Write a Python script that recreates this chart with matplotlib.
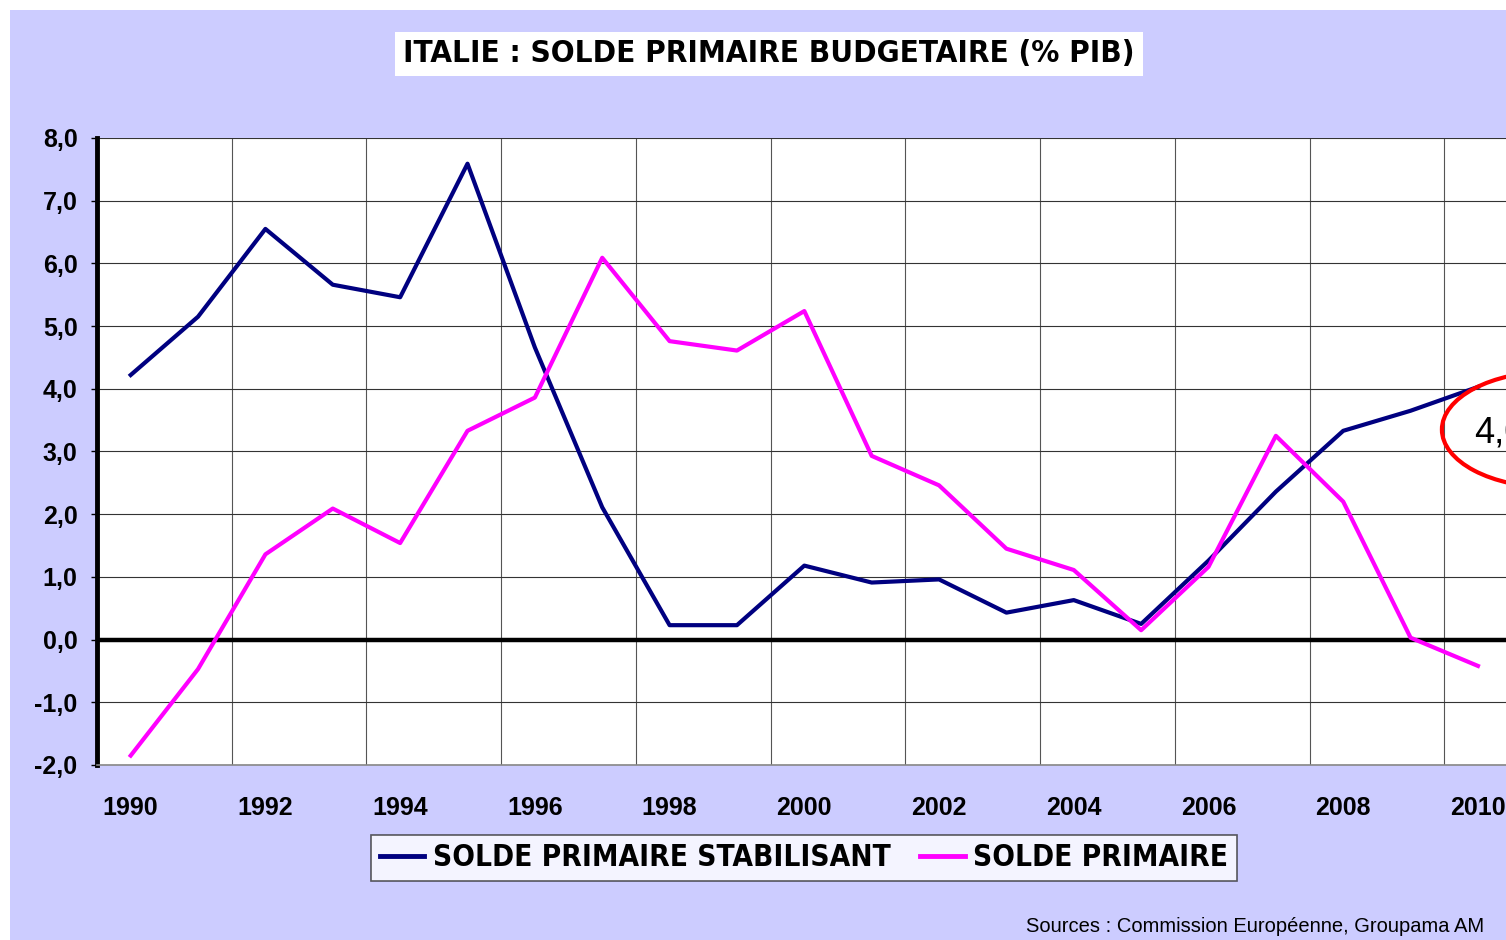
import numpy as np
import matplotlib.pyplot as plt
from matplotlib.patches import Rectangle, Ellipse
from matplotlib.lines import Line2D

years = list(range(1990, 2011))
stabilisant = [4.22, 5.15, 6.55, 5.66, 5.46, 7.59, 4.66, 2.11, 0.23, 0.23, 1.18,
               0.91, 0.96, 0.43, 0.63, 0.25, 1.26, 2.36, 3.33, 3.65, 4.03]
primaire = [-1.85, -0.47, 1.36, 2.09, 1.54, 3.33, 3.86, 6.09, 4.76, 4.61, 5.24,
            2.93, 2.46, 1.45, 1.11, 0.15, 1.16, 3.25, 2.20, 0.03, -0.42]
year_ticks = list(range(1990, 2011, 2))
y_ticks = np.arange(-2, 9, 1)

NAVY = '#000080'
MAGENTA = '#FF00FF'
LAV = '#CCCCFF'

fig = plt.figure(figsize=(15.06, 9.40), dpi=100)
fig.patch.set_facecolor('white')
# fond lavande, petite marge blanche en haut et a gauche
fig.patches.append(Rectangle((10/1506, 0), 1, 1 - 10/940, transform=fig.transFigure,
                             facecolor=LAV, edgecolor='none', zorder=-10))

ax = fig.add_axes([97/1506, 1 - 765/940, 1482/1506, (765 - 138)/940])
ax.set_facecolor('white')
ax.set_xlim(1989.5, 2011.5)
ax.set_ylim(-2, 8)

for v in np.arange(1991.5, 2011.5, 2):
    ax.axvline(v, color='#555555', lw=0.8, zorder=1)
for v in y_ticks:
    ax.axhline(v, color='#333333', lw=0.8, zorder=1)
ax.axhline(0, color='black', lw=3.2, zorder=2)

ax.plot(years, stabilisant, color=NAVY, lw=3, zorder=4)
ax.plot(years, primaire, color=MAGENTA, lw=3, zorder=5)

ax.add_patch(Ellipse((2011.1, 3.35), 3.27, 1.85, fill=False, edgecolor='red',
                     lw=3, zorder=6, clip_on=False))
ax.text(2009.95, 3.3, '4,0', fontsize=26, ha='left', va='center',
        family='Liberation Sans', zorder=7, clip_on=False)

ax.set_xticks(year_ticks)
ax.set_xticklabels([str(y) for y in year_ticks], fontsize=18, fontweight='bold',
                   family='Liberation Sans')
ax.set_yticks(y_ticks)
ax.set_yticklabels([f'{v:.1f}'.replace('.', ',') for v in y_ticks], fontsize=18,
                   fontweight='bold', family='Liberation Sans')
ax.tick_params(axis='x', length=0, pad=22)
ax.tick_params(axis='y', length=4, width=1, pad=10, direction='out')

ax.spines['left'].set_linewidth(3.5)
ax.spines['left'].set_color('black')
ax.spines['bottom'].set_color('#888888')
ax.spines['bottom'].set_linewidth(1.2)
ax.spines['top'].set_visible(False)
ax.spines['right'].set_visible(False)

fig.text(769/1506, 1 - 54/940, 'ITALIE : SOLDE PRIMAIRE BUDGETAIRE (% PIB)',
         fontsize=22.5, fontweight='bold', family='DejaVu Sans', fontstretch='condensed',
         ha='center', va='center',
         bbox=dict(boxstyle='square,pad=0.25', facecolor='white', edgecolor='none'))

handles = [Line2D([], [], color=NAVY, lw=3.5), Line2D([], [], color=MAGENTA, lw=3.5)]
leg = fig.legend(handles, ['SOLDE PRIMAIRE STABILISANT', 'SOLDE PRIMAIRE'],
                 loc='center', bbox_to_anchor=(804/1506, 1 - 858/940), ncol=2,
                 frameon=True, fancybox=False, handlelength=1.5, handletextpad=0.3,
                 columnspacing=1.0, borderpad=0.3,
                 prop=dict(family='DejaVu Sans', weight='bold', size=21.3,
                           stretch='condensed'))
leg.get_frame().set_edgecolor('#333333')
leg.get_frame().set_linewidth(1.2)
leg.get_frame().set_facecolor('white')

fig.text(1484/1506, 1 - 927/940, 'Sources : Commission Européenne, Groupama AM',
         fontsize=14.5, family='Liberation Sans', ha='right', va='center')

fig.savefig('out.png', dpi=100, facecolor=fig.get_facecolor())
